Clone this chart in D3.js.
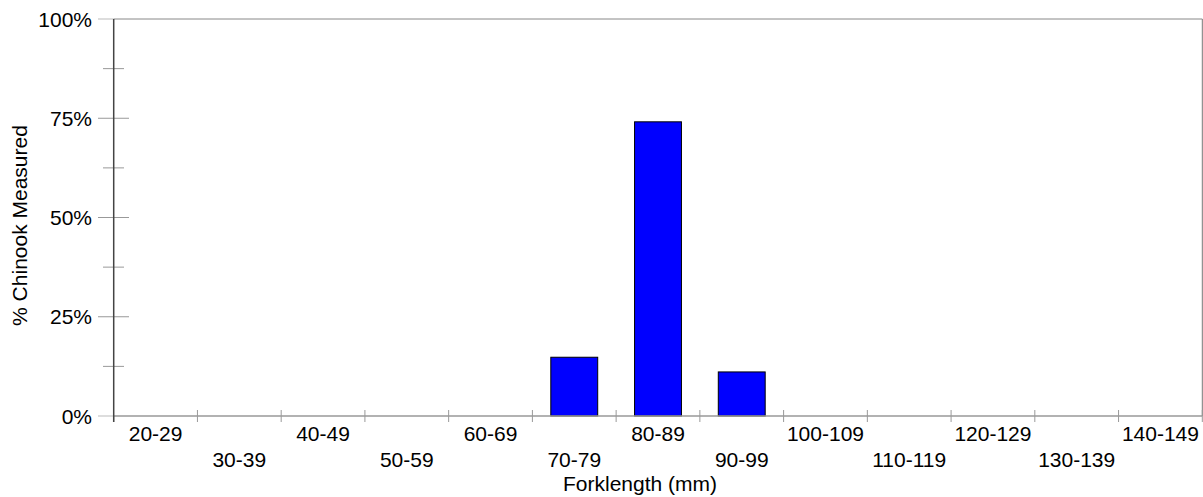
<!DOCTYPE html>
<html><head><meta charset="utf-8">
<script src="https://cdn.jsdelivr.net/npm/d3@7"></script>
<style>body{margin:0;background:#fff}text{font-family:"Liberation Sans",Arial,sans-serif;fill:#000}</style>
</head><body><svg id="c" width="1203" height="497"></svg>
<script>
const categories=["20-29","30-39","40-49","50-59","60-69","70-79","80-89","90-99","100-109","110-119","120-129","130-139","140-149"];
const values=[0,0,0,0,0,14.8,74.1,11.1,0,0,0,0,0];
const yTicks=[0,25,50,75,100];
const yMinor=[12.5,37.5,62.5,87.5];
const xTitle="Forklength (mm)", yTitle="% Chinook Measured";

const L=113.7,R=1202.3,T=19,B=416,fs=21;
const svg=d3.select("#c");
const x=d3.scaleBand().domain(categories).range([L,R]).padding(0);
const y=d3.scaleLinear().domain([0,100]).range([B,T]);
const bw=x.bandwidth();

// frame
svg.append("line").attr("x1",L).attr("x2",R).attr("y1",T).attr("y2",T).attr("stroke","#888");
svg.append("line").attr("x1",R).attr("x2",R).attr("y1",T).attr("y2",B).attr("stroke","#777");
// bars
svg.selectAll("rect.bar").data(categories.map((c,i)=>({c,v:values[i]})).filter(d=>d.v>0)).enter().append("rect")
 .attr("x",d=>x(d.c)+bw*0.22).attr("width",bw*0.56)
 .attr("y",d=>y(d.v)).attr("height",d=>B-y(d.v))
 .attr("fill","#0000ff").attr("stroke","#000").attr("stroke-width",1);
// bottom axis
svg.append("line").attr("x1",L).attr("x2",R).attr("y1",B).attr("y2",B).attr("stroke","#999").attr("stroke-width",1.5);
const bounds=categories.map(c=>x(c)).concat([R]);
svg.selectAll("line.xt").data(bounds).enter().append("line")
 .attr("x1",d=>d).attr("x2",d=>d).attr("y1",(d,i)=>i===0?B:B-6).attr("y2",B+6).attr("stroke","#999");
svg.selectAll("text.xl").data(categories).enter().append("text")
 .attr("x",c=>x(c)+bw/2).attr("y",(c,i)=>i%2===0?441:467)
 .attr("text-anchor","middle").attr("font-size",fs).text(c=>c);
// y axis
svg.selectAll("line.ym").data(yTicks).enter().append("line")
 .attr("x1",98).attr("x2",d=>(d===0||d===100)?L:129).attr("y1",d=>y(d)).attr("y2",d=>y(d)).attr("stroke",d=>(d===0||d===100)?"#bbb":"#999");
svg.selectAll("line.yn").data(yMinor).enter().append("line")
 .attr("x1",103).attr("x2",124).attr("y1",d=>y(d)).attr("y2",d=>y(d)).attr("stroke","#999");
svg.append("line").attr("x1",L).attr("x2",L).attr("y1",T).attr("y2",B+6).attr("stroke","#444").attr("stroke-width",1.5);
svg.selectAll("text.yl").data(yTicks).enter().append("text")
 .attr("x",92).attr("y",d=>y(d)).attr("dy","0.36em").attr("text-anchor","end").attr("font-size",fs).text(d=>d+"%");
// titles
svg.append("text").attr("x",(L+R)/2-18).attr("y",491).attr("text-anchor","middle").attr("font-size",fs).text(xTitle);
svg.append("text").attr("transform",`translate(27,${(T+B)/2+8}) rotate(-90)`).attr("text-anchor","middle").attr("font-size",fs).text(yTitle);
</script></body></html>
